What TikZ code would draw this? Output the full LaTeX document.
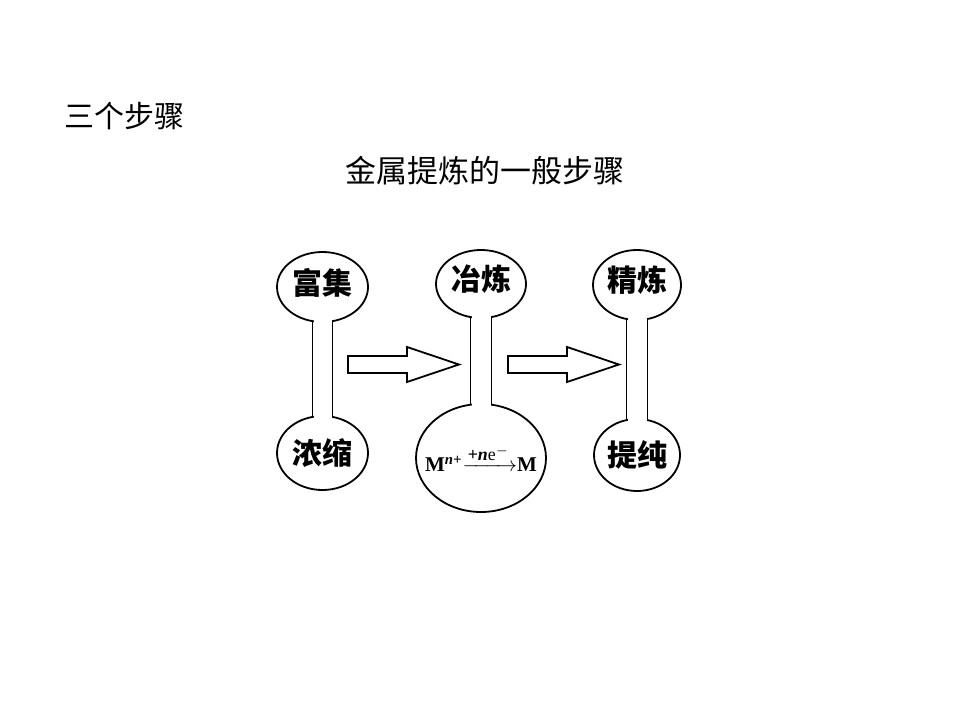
\documentclass[tikz,border=0pt]{standalone}
\usepackage{amsmath}
\usepackage{fontspec}
\newfontfamily\cjk{Noto Sans CJK SC}
\newfontfamily\timesf{Liberation Serif}
\newcommand{\metalform}{\timesf\bfseries M\textsuperscript{\itshape n+}$\xrightarrow{\text{\timesf\fontsize{8.5}{9}\selectfont\bfseries +\textit{n}\mdseries e$^{-}$}}$M}
\usetikzlibrary{shapes.geometric, calc}

\begin{document}
\begin{tikzpicture}[x=1pt, y=-1pt,
                stage/.style={ellipse, draw, line width=1.8pt, fill=white, inner sep=0pt, font=\cjk\bfseries\fontsize{30}{32}\selectfont},
                raised/.style={text depth=12pt},
                stemline/.style={line width=1.8pt},
                blockarrow/.style={draw, line width=1.8pt, fill=white, line join=miter},
                title/.style={inner sep=0pt, font=\cjk\fontsize{30}{32}\selectfont}
            ]
                \fill[white] (0,0) rectangle (960,720);
                \useasboundingbox (0,0) rectangle (960,720);

                \node[title] (steps) at (124,116) {三个步骤};
                \node[title, font=\cjk\fontsize{31}{33}\selectfont] (heading) at (485,171) {金属提炼的一般步骤};

                % left column
                \node[stage, raised, minimum width=91pt, minimum height=70pt] (fuji) at (322.5,287) {富集};
                \node[stage, minimum width=91pt, minimum height=74pt] (nongsuo) at (322.5,453) {浓缩};
                % middle column
                \node[stage, minimum width=130pt, minimum height=108pt, inner xsep=-30pt, font=\normalsize] (huanyuan) at (481,458)
                    {\scalebox{2.1}{\metalform}};
                \node[stage, raised, minimum width=90pt, minimum height=68pt] (yelian) at (481,284) {冶炼};
                % right column
                \node[stage, raised, minimum width=88pt, minimum height=70pt] (jinglian) at (637,285) {精炼};
                \node[stage, minimum width=86pt, minimum height=72pt] (tichun) at (637,455) {提纯};

                \fill[white] ($(fuji.south)+(-9,-3)$) rectangle ($(nongsuo.north)+(9,3)$);
                \fill[white] ($(yelian.south)+(-9.5,-3)$) rectangle ($(huanyuan.north)+(9.5,3)$);
                \fill[white] ($(jinglian.south)+(-9.5,-3)$) rectangle ($(tichun.north)+(9.5,3)$);

                \draw[stemline] ($(fuji.south)+(-10,-1)$) -- ($(nongsuo.north)+(-10,1)$);
                \draw[stemline] ($(fuji.south)+(10,-1)$) -- ($(nongsuo.north)+(10,1)$);
                \draw[stemline] ($(yelian.south)+(-10.5,-1)$) -- ($(huanyuan.north)+(-10.5,0.5)$);
                \draw[stemline] ($(yelian.south)+(10.5,-1)$) -- ($(huanyuan.north)+(10.5,0.5)$);
                \draw[stemline] ($(jinglian.south)+(-10.5,-1)$) -- ($(tichun.north)+(-10.5,1)$);
                \draw[stemline] ($(jinglian.south)+(10.5,-1)$) -- ($(tichun.north)+(10.5,1)$);

                \draw[blockarrow] (348,356) -- (407,356) -- (407,347) -- (459,364.5) -- (407,382) -- (407,373) -- (348,373) -- cycle;
                \draw[blockarrow, shift={(160,0)}] (348,356) -- (407,356) -- (407,347) -- (459,364.5) -- (407,382) -- (407,373) -- (348,373) -- cycle;
            \end{tikzpicture}
\end{document}
